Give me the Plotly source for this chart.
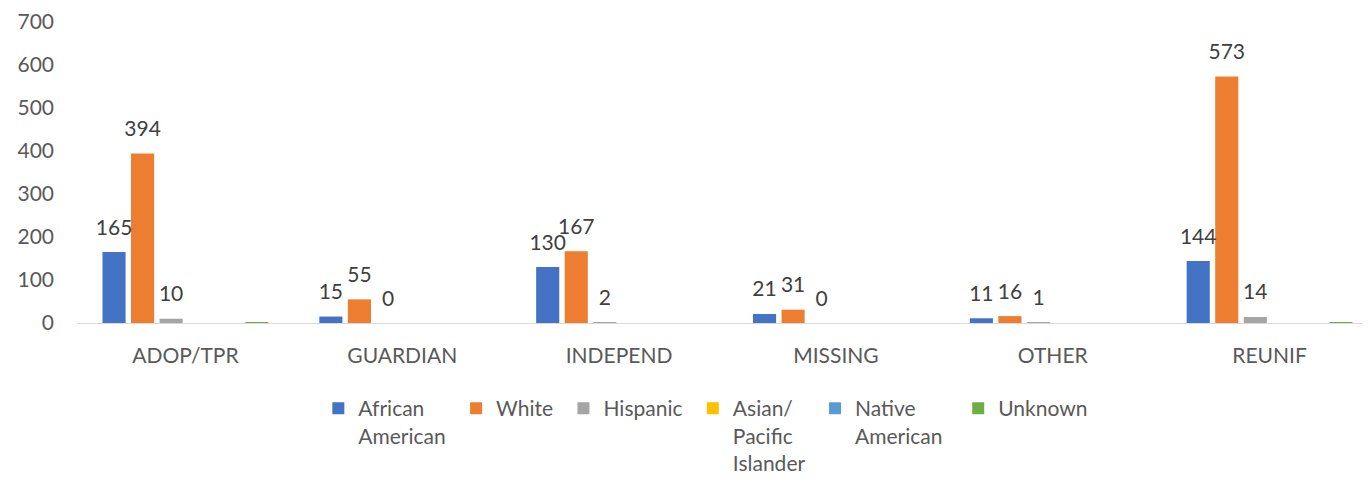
import plotly.graph_objects as go

categories = ["ADOP/TPR", "GUARDIAN", "INDEPEND", "MISSING", "OTHER", "REUNIF"]
african_american = [165, 15, 130, 21, 11, 144]
white = [394, 55, 167, 31, 16, 573]
hispanic = [10, 0, 2, 0, 1, 14]
asian_pacific = [0, 0, 0, 0, 0, 0]
native_american = [0, 0, 0, 0, 0, 0]
unknown = [1, 0, 0, 0, 0, 1]

series = [
    ("African<br>American&nbsp;", african_american, "#4472C4", True),
    ("White&nbsp;", white, "#ED7D31", True),
    ("Hispanic&nbsp;", hispanic, "#A5A5A5", True),
    ("Asian/<br>Pacific<br>Islander&nbsp;", asian_pacific, "#FFC000", False),
    ("Native<br>American&nbsp;&nbsp;", native_american, "#5B9BD5", False),
    ("Unknown", unknown, "#70AD47", False),
]

FONT = "Lato, 'Open Sans', sans-serif"
FS = 21
GAP = 0.21

fig = go.Figure()
for i, (name, vals, color, labeled) in enumerate(series):
    fig.add_trace(go.Bar(
        x=categories, y=vals, name=name,
        marker=dict(color=color, line=dict(width=0)),
        offsetgroup=str(i),
        hovertemplate="%{x}: %{y}<extra></extra>",
    ))
# data labels as text-only scatter traces grouped the same way as the bars
for i, (name, vals, color, labeled) in enumerate(series):
    fig.add_trace(go.Scatter(
        x=categories, y=vals, mode="markers+text",
        text=[str(v) for v in vals] if labeled else None,
        textposition="top center",
        textfont=dict(size=FS, color="#404040", family=FONT),
        marker=dict(size=18, opacity=0),
        offsetgroup=str(i), showlegend=False, hoverinfo="skip",
        cliponaxis=False,
    ))

fig.update_layout(
    width=1378, height=475,
    margin=dict(l=69, r=8, t=14, b=160, autoexpand=False),
    barmode="group", bargap=GAP, bargroupgap=0.19,
    scattermode="group", scattergap=GAP,
    plot_bgcolor="white", paper_bgcolor="white",
    font=dict(family=FONT, size=FS, color="#595959"),
    xaxis=dict(showline=True, linecolor="#d9d9d9", linewidth=1, ticks="",
               automargin=False,
               tickfont=dict(size=FS, color="#595959"), ticklabelstandoff=14),
    yaxis=dict(range=[0, 700], dtick=100, showgrid=False, zeroline=False,
               showline=False, automargin=False,
               tickfont=dict(size=FS, color="#595959"),
               ticklabelstandoff=22),
    legend=dict(orientation="h", x=0.1855, xanchor="left",
                yref="container", y=0.2, yanchor="top",
                font=dict(size=FS, color="#595959"), valign="top",
                itemwidth=30, tracegroupgap=0),
    showlegend=True,
)

fig.write_html("out.html")
